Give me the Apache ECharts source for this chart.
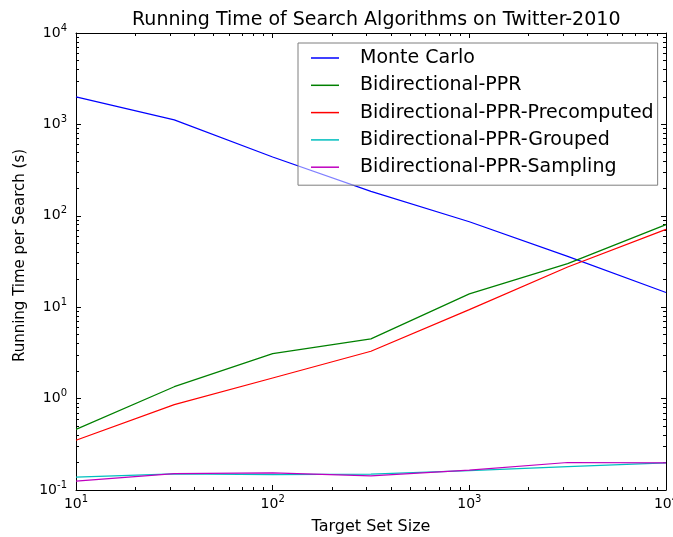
<!DOCTYPE html>
<html>
<head>
<meta charset="utf-8">
<script src="https://cdn.jsdelivr.net/npm/echarts@6/dist/echarts.min.js"></script>
<style>
html,body{margin:0;padding:0;background:#fff;overflow:hidden;}
#chart{width:673px;height:537px;}
</style>
</head>
<body>
<div id="chart"></div>
<script>
var targetSizes = [10, 31.6, 100, 316, 1000, 3162, 10000];
var monteCarlo = [2000, 1120, 440, 185, 86, 36, 14.5];
var bidirPPR = [0.46, 1.35, 3.1, 4.5, 14, 30, 80];
var bidirPrecomputed = [0.35, 0.86, 1.68, 3.3, 9.4, 27.5, 71];
var bidirGrouped = [0.138, 0.15, 0.147, 0.149, 0.163, 0.18, 0.198];
var bidirSampling = [0.125, 0.151, 0.154, 0.143, 0.165, 0.2, 0.198];
var seriesNames = ['Monte Carlo', 'Bidirectional-PPR', 'Bidirectional-PPR-Precomputed', 'Bidirectional-PPR-Grouped', 'Bidirectional-PPR-Sampling'];
var seriesColors = ['#0000ff', '#008000', '#ff0000', '#00bfbf', '#bf00bf'];
var xMajor = [10, 100, 1000, 10000];
var yMajor = [0.1, 1, 10, 100, 1000, 10000];

function minorTicks(majors) {
  var out = [];
  for (var i = 0; i < majors.length - 1; i++) {
    for (var k = 2; k <= 9; k++) out.push(majors[i] * k);
  }
  return out;
}
var xMinor = minorTicks(xMajor);
var yMinor = minorTicks(yMajor);

var FONT = 'DejaVu Sans';
function powLabel(v) {
  var e = Math.round(Math.log10(v));
  return '{b|10}{s|' + e + '}';
}
var richLabel = {
  b: {fontFamily: FONT, fontSize: 14, color: '#000', lineHeight: 20},
  s: {fontFamily: FONT, fontSize: 10, color: '#000', verticalAlign: 'top', lineHeight: 12}
};

function makeAxis(kind, pos, major, minor, withLabels, extra) {
  var ax = {
    type: 'log', logBase: 10, gridIndex: 0, position: pos,
    min: major[0], max: major[major.length - 1],
    splitLine: {show: false},
    axisLine: {show: kind === 'major', lineStyle: {color: '#000', width: 1}},
    axisTick: {show: true, inside: true, length: kind === 'major' ? 5 : 3,
      customValues: kind === 'major' ? major : minor,
      lineStyle: {color: '#000', width: 1}},
    axisLabel: {show: withLabels, customValues: major, formatter: powLabel, rich: richLabel,
      margin: (pos === 'left' ? 9 : 4)},
    minorTick: {show: false}
  };
  if (extra) for (var k in extra) ax[k] = extra[k];
  return ax;
}

var xAxes = [
  makeAxis('major', 'bottom', xMajor, xMinor, true, {
    name: 'Target Set Size', nameLocation: 'middle', nameGap: 29,
    nameTextStyle: {fontFamily: FONT, fontSize: 16, color: '#000'}
  }),
  makeAxis('minor', 'bottom', xMajor, xMinor, false),
  makeAxis('major', 'top', xMajor, xMinor, false),
  makeAxis('minor', 'top', xMajor, xMinor, false)
];
var yAxes = [
  makeAxis('major', 'left', yMajor, yMinor, true, {
    name: 'Running Time per Search (s)', nameLocation: 'middle', nameGap: 48,
    nameTextStyle: {fontFamily: FONT, fontSize: 15, color: '#000', padding: [0, 0, 0, 12]}
  }),
  makeAxis('minor', 'left', yMajor, yMinor, false),
  makeAxis('major', 'right', yMajor, yMinor, false),
  makeAxis('minor', 'right', yMajor, yMinor, false)
];

var allValues = [monteCarlo, bidirPPR, bidirPrecomputed, bidirGrouped, bidirSampling];
var series = allValues.map(function (vals, i) {
  return {
    name: seriesNames[i], type: 'line', xAxisIndex: 0, yAxisIndex: 0,
    showSymbol: false, symbol: 'none', animation: false,
    lineStyle: {color: seriesColors[i], width: 1.2},
    itemStyle: {color: seriesColors[i]},
    data: targetSizes.map(function (x, j) { return [x, vals[j]]; })
  };
});

var chart = echarts.init(document.getElementById('chart'), null, {renderer: 'canvas'});
chart.setOption({
  backgroundColor: '#fff',
  animation: false,
  title: {
    text: 'Running Time of Search Algorithms on Twitter-2010',
    left: 127, top: 6,
    textStyle: {fontFamily: FONT, fontSize: 19, fontWeight: 'normal', color: '#000'}
  },
  grid: {left: 76, right: 7, top: 33, bottom: 47, containLabel: false, outerBoundsMode: 'none'},
  xAxis: xAxes,
  yAxis: yAxes,
  legend: {
    orient: 'vertical', left: 298, top: 43,
    data: seriesNames.map(function (n) { return {name: n, icon: 'rect'}; }),
    itemWidth: 28, itemHeight: 1.5, itemGap: 5.3,
    padding: [4, 4, 7, 13],
    backgroundColor: 'rgba(255,255,255,0.5)',
    borderColor: '#7f7f7f', borderWidth: 1, borderRadius: 0,
    textStyle: {fontFamily: FONT, fontSize: 19, color: '#000', lineHeight: 22, padding: [0, 0, 0, 16]}
  },
  series: series
});
</script>
</body>
</html>
